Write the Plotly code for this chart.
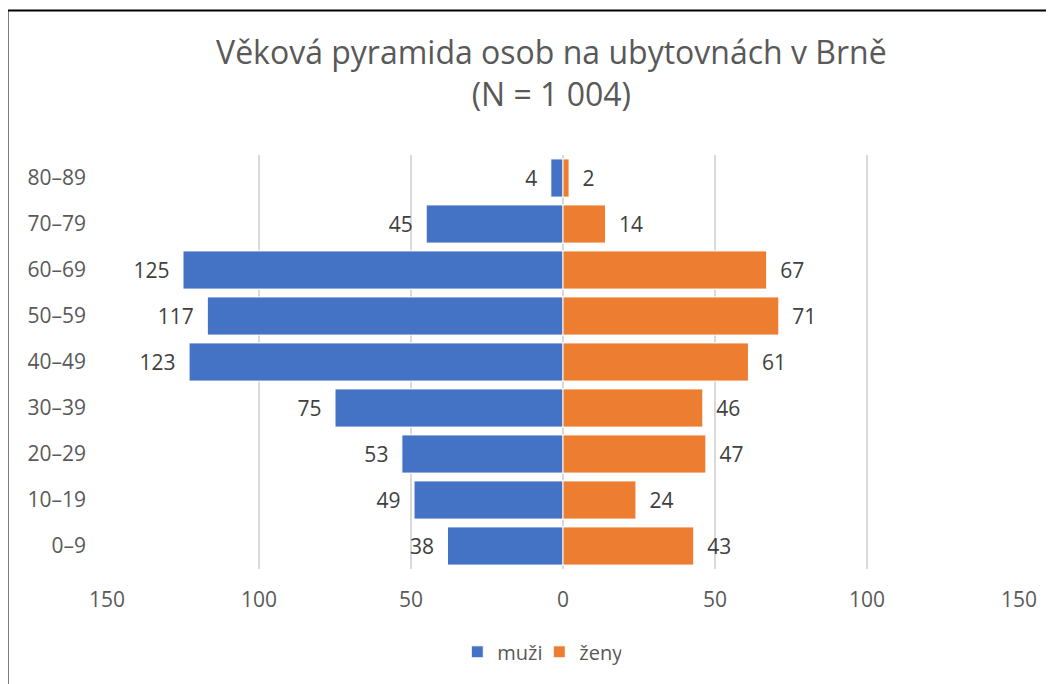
import plotly.graph_objects as go

categories = ["0–9", "10–19", "20–29", "30–39", "40–49", "50–59", "60–69", "70–79", "80–89"]
muzi = [38, 49, 53, 75, 123, 117, 125, 45, 4]
zeny = [43, 24, 47, 46, 61, 71, 67, 14, 2]
tick_vals = [-150, -100, -50, 0, 50, 100, 150]
tick_text = ["150", "100", "50", "0", "50", "100", "150"]

FONT = "Open Sans"
SP = "\u2002"
fig = go.Figure()
fig.add_trace(go.Bar(
    y=categories, x=[-v for v in muzi], orientation="h", name="muži",
    marker=dict(color="#4472C4", line=dict(color="white", width=1)),
    text=[str(v) + SP for v in muzi], textposition="outside",
    textfont=dict(family=FONT, size=21, color="#404040"),
    cliponaxis=False, hoverinfo="skip",
))
fig.add_trace(go.Bar(
    y=categories, x=zeny, orientation="h", name="ženy",
    marker=dict(color="#ED7D31", line=dict(color="white", width=1)),
    text=[SP + str(v) for v in zeny], textposition="outside",
    textfont=dict(family=FONT, size=21, color="#404040"),
    cliponaxis=False, hoverinfo="skip",
))

fig.update_layout(
    width=1054, height=684,
    barmode="relative", bargap=0.17,
    paper_bgcolor="white", plot_bgcolor="white",
    margin=dict(l=99, r=43, t=147, b=123),
    font=dict(family=FONT, color="#595959"),
    title=dict(
        text="Věková pyramida osob na ubytovnách v Brně<br>(N = 1 004)",
        x=0.5155, xanchor="center", y=0.918, yanchor="top",
        font=dict(family=FONT, size=32, color="#595959"),
    ),
    xaxis=dict(
        range=[-150, 150], tickvals=tick_vals, ticktext=tick_text,
        showgrid=True, gridcolor="#D9D9D9", gridwidth=2,
        zeroline=True, zerolinecolor="#D9D9D9", zerolinewidth=2,
        showline=False, ticks="", ticklabelstandoff=16,
        tickfont=dict(family=FONT, size=21, color="#595959"),
    ),
    yaxis=dict(
        showgrid=False, showline=False, ticks="", ticklabelstandoff=20,
        tickfont=dict(family=FONT, size=21, color="#595959"),
    ),
    showlegend=True,
    legend=dict(
        orientation="h", x=0.474, xanchor="center", y=-0.2, yanchor="middle",
        font=dict(family=FONT, size=20, color="#595959"),
        traceorder="normal", itemwidth=30, entrywidth=37, entrywidthmode="pixels",
    ),
    shapes=[
        dict(type="line", xref="paper", yref="paper", x0=-0.1091, x1=-0.1091, y0=1.349, y1=-0.5,
             line=dict(color="black", width=2)),
        dict(type="line", xref="paper", yref="paper", x0=-0.1091, x1=1.2, y0=1.349, y1=1.349,
             line=dict(color="black", width=2)),
    ],
)

fig.write_html("out.html")
